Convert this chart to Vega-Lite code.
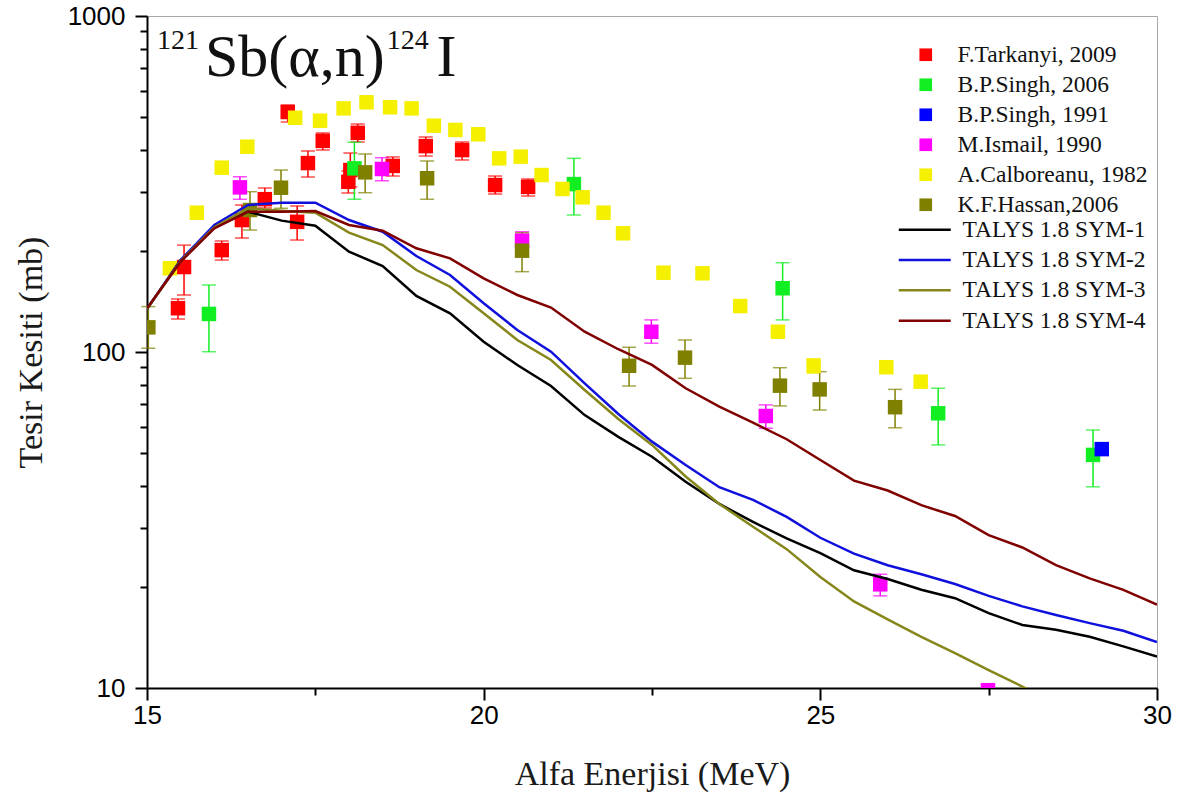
{
  "$schema": "https://vega.github.io/schema/vega-lite/v6.json",
  "width": 1010,
  "height": 672,
  "autosize": {"type": "none"},
  "padding": {"left": 147, "top": 16, "right": 24, "bottom": 116},
  "background": "white",
  "config": {
    "view": {"stroke": "#a8a8a8", "strokeWidth": 1},
    "axis": {"grid": false, "domainColor": "#000000", "domainWidth": 2, "tickColor": "#000000", "tickWidth": 2, "labelColor": "#000000", "labelFont": "Liberation Sans", "labelFontSize": 26, "titleFont": "Liberation Serif", "titleFontWeight": "normal", "titleFontSize": 34, "titleColor": "#1a1a1a", "labelOverlap": false, "labelBound": false, "labelFlush": false}
  },
  "datasets": {
    "pts": [
      {"series": "F.Tarkanyi, 2009", "E": 15.46, "v": 135, "lo": 125.4, "hi": 143.8},
      {"series": "F.Tarkanyi, 2009", "E": 15.55, "v": 179, "lo": 147.8, "hi": 208},
      {"series": "F.Tarkanyi, 2009", "E": 16.11, "v": 201, "lo": 187.8, "hi": 214},
      {"series": "F.Tarkanyi, 2009", "E": 16.41, "v": 247, "lo": 218.4, "hi": 273.8},
      {"series": "F.Tarkanyi, 2009", "E": 16.75, "v": 285, "lo": 268.3, "hi": 307.7},
      {"series": "F.Tarkanyi, 2009", "E": 17.09, "v": 518, "lo": 483.6, "hi": 543},
      {"series": "F.Tarkanyi, 2009", "E": 17.23, "v": 244, "lo": 215.4, "hi": 272},
      {"series": "F.Tarkanyi, 2009", "E": 17.39, "v": 365, "lo": 331.7, "hi": 396.5},
      {"series": "F.Tarkanyi, 2009", "E": 17.61, "v": 425, "lo": 399.2, "hi": 448.6},
      {"series": "F.Tarkanyi, 2009", "E": 17.99, "v": 321, "lo": 297.3, "hi": 345.7},
      {"series": "F.Tarkanyi, 2009", "E": 18.02, "v": 348, "lo": 309.8, "hi": 391},
      {"series": "F.Tarkanyi, 2009", "E": 18.13, "v": 449, "lo": 421.7, "hi": 477},
      {"series": "F.Tarkanyi, 2009", "E": 18.65, "v": 358, "lo": 334, "hi": 380.6},
      {"series": "F.Tarkanyi, 2009", "E": 19.14, "v": 410, "lo": 383, "hi": 436.4},
      {"series": "F.Tarkanyi, 2009", "E": 19.68, "v": 399, "lo": 372.8, "hi": 421.7},
      {"series": "F.Tarkanyi, 2009", "E": 20.17, "v": 314, "lo": 295.3, "hi": 334},
      {"series": "F.Tarkanyi, 2009", "E": 20.66, "v": 310, "lo": 291.2, "hi": 327.2},
      {"series": "B.P.Singh, 2006", "E": 15.92, "v": 129.8, "lo": 100.2, "hi": 158.3},
      {"series": "B.P.Singh, 2006", "E": 18.08, "v": 352, "lo": 284.8, "hi": 420.9},
      {"series": "B.P.Singh, 2006", "E": 21.34, "v": 316, "lo": 255.7, "hi": 377},
      {"series": "B.P.Singh, 2006", "E": 24.44, "v": 154.8, "lo": 124.6, "hi": 184.4},
      {"series": "B.P.Singh, 2006", "E": 26.75, "v": 65.7, "lo": 52.9, "hi": 78},
      {"series": "B.P.Singh, 2006", "E": 29.05, "v": 49.4, "lo": 39.7, "hi": 58.6},
      {"series": "B.P.Singh, 1991", "E": 29.18, "v": 51.4},
      {"series": "M.Ismail, 1990", "E": 16.38, "v": 309, "lo": 284.8, "hi": 332.4},
      {"series": "M.Ismail, 1990", "E": 18.49, "v": 350.5, "lo": 323.4, "hi": 378.7},
      {"series": "M.Ismail, 1990", "E": 20.57, "v": 214.5, "lo": 200, "hi": 228},
      {"series": "M.Ismail, 1990", "E": 22.49, "v": 114.9, "lo": 106.2, "hi": 124.6},
      {"series": "M.Ismail, 1990", "E": 24.19, "v": 64.5, "lo": 59.3, "hi": 69.6},
      {"series": "M.Ismail, 1990", "E": 25.89, "v": 20.35, "lo": 18.8, "hi": 21.8},
      {"series": "M.Ismail, 1990", "E": 27.49, "v": 9.85},
      {"series": "A.Calboreanu, 1982", "E": 15.34, "v": 177.5},
      {"series": "A.Calboreanu, 1982", "E": 15.74, "v": 259.8},
      {"series": "A.Calboreanu, 1982", "E": 16.11, "v": 353.7},
      {"series": "A.Calboreanu, 1982", "E": 16.49, "v": 408.3},
      {"series": "A.Calboreanu, 1982", "E": 17.2, "v": 498},
      {"series": "A.Calboreanu, 1982", "E": 17.57, "v": 488},
      {"series": "A.Calboreanu, 1982", "E": 17.92, "v": 531},
      {"series": "A.Calboreanu, 1982", "E": 18.26, "v": 553.6},
      {"series": "A.Calboreanu, 1982", "E": 18.61, "v": 535},
      {"series": "A.Calboreanu, 1982", "E": 18.93, "v": 531},
      {"series": "A.Calboreanu, 1982", "E": 19.26, "v": 471.6},
      {"series": "A.Calboreanu, 1982", "E": 19.58, "v": 457.9},
      {"series": "A.Calboreanu, 1982", "E": 19.92, "v": 444.6},
      {"series": "A.Calboreanu, 1982", "E": 20.23, "v": 377},
      {"series": "A.Calboreanu, 1982", "E": 20.55, "v": 381.4},
      {"series": "A.Calboreanu, 1982", "E": 20.86, "v": 336.3},
      {"series": "A.Calboreanu, 1982", "E": 21.17, "v": 305.6},
      {"series": "A.Calboreanu, 1982", "E": 21.47, "v": 288.7},
      {"series": "A.Calboreanu, 1982", "E": 21.78, "v": 259.8},
      {"series": "A.Calboreanu, 1982", "E": 22.07, "v": 225.6},
      {"series": "A.Calboreanu, 1982", "E": 22.67, "v": 172.2},
      {"series": "A.Calboreanu, 1982", "E": 23.25, "v": 171.5},
      {"series": "A.Calboreanu, 1982", "E": 23.81, "v": 137, "lo": 133, "hi": 141},
      {"series": "A.Calboreanu, 1982", "E": 24.37, "v": 114.9},
      {"series": "A.Calboreanu, 1982", "E": 24.9, "v": 90.9, "lo": 86.5, "hi": 95.5},
      {"series": "A.Calboreanu, 1982", "E": 25.98, "v": 90.1},
      {"series": "A.Calboreanu, 1982", "E": 26.49, "v": 81.6},
      {"series": "K.F.Hassan,2006", "E": 15.02, "v": 118.4, "lo": 102.6, "hi": 136.5},
      {"series": "K.F.Hassan,2006", "E": 16.53, "v": 264.6, "lo": 230.7, "hi": 300},
      {"series": "K.F.Hassan,2006", "E": 16.99, "v": 308.3, "lo": 267.7, "hi": 348},
      {"series": "K.F.Hassan,2006", "E": 18.24, "v": 342.5, "lo": 297.9, "hi": 388.4},
      {"series": "K.F.Hassan,2006", "E": 19.16, "v": 328.9, "lo": 284.8, "hi": 370.3},
      {"series": "K.F.Hassan,2006", "E": 20.57, "v": 200.2, "lo": 173.4, "hi": 226.5},
      {"series": "K.F.Hassan,2006", "E": 22.16, "v": 91, "lo": 79.2, "hi": 103.3},
      {"series": "K.F.Hassan,2006", "E": 22.99, "v": 96.2, "lo": 83.5, "hi": 108.6},
      {"series": "K.F.Hassan,2006", "E": 24.4, "v": 79.4, "lo": 69.1, "hi": 89.8},
      {"series": "K.F.Hassan,2006", "E": 24.99, "v": 77.4, "lo": 67.2, "hi": 87.4},
      {"series": "K.F.Hassan,2006", "E": 26.11, "v": 68.5, "lo": 59.5, "hi": 77.4}
    ],
    "models": [
      {"model": "TALYS 1.8 SYM-1", "E": 15, "v": 134.3}, {"model": "TALYS 1.8 SYM-1", "E": 15.5, "v": 187.8}, {"model": "TALYS 1.8 SYM-1", "E": 16, "v": 235.0}, {"model": "TALYS 1.8 SYM-1", "E": 16.5, "v": 261.6}, {"model": "TALYS 1.8 SYM-1", "E": 17, "v": 246.0}, {"model": "TALYS 1.8 SYM-1", "E": 17.5, "v": 237.6}, {"model": "TALYS 1.8 SYM-1", "E": 18, "v": 198.9}, {"model": "TALYS 1.8 SYM-1", "E": 18.5, "v": 180.3}, {"model": "TALYS 1.8 SYM-1", "E": 19, "v": 146.8}, {"model": "TALYS 1.8 SYM-1", "E": 19.5, "v": 130.4}, {"model": "TALYS 1.8 SYM-1", "E": 20, "v": 107.3}, {"model": "TALYS 1.8 SYM-1", "E": 20.5, "v": 91.5}, {"model": "TALYS 1.8 SYM-1", "E": 21, "v": 79.2}, {"model": "TALYS 1.8 SYM-1", "E": 21.5, "v": 64.9}, {"model": "TALYS 1.8 SYM-1", "E": 22, "v": 55.9}, {"model": "TALYS 1.8 SYM-1", "E": 22.5, "v": 48.8}, {"model": "TALYS 1.8 SYM-1", "E": 23, "v": 41.1}, {"model": "TALYS 1.8 SYM-1", "E": 23.5, "v": 35.3}, {"model": "TALYS 1.8 SYM-1", "E": 24, "v": 31.2}, {"model": "TALYS 1.8 SYM-1", "E": 24.5, "v": 27.9}, {"model": "TALYS 1.8 SYM-1", "E": 25, "v": 25.2}, {"model": "TALYS 1.8 SYM-1", "E": 25.5, "v": 22.4}, {"model": "TALYS 1.8 SYM-1", "E": 26, "v": 21.1}, {"model": "TALYS 1.8 SYM-1", "E": 26.5, "v": 19.6}, {"model": "TALYS 1.8 SYM-1", "E": 27, "v": 18.5}, {"model": "TALYS 1.8 SYM-1", "E": 27.5, "v": 16.7}, {"model": "TALYS 1.8 SYM-1", "E": 28, "v": 15.4}, {"model": "TALYS 1.8 SYM-1", "E": 28.5, "v": 14.9}, {"model": "TALYS 1.8 SYM-1", "E": 29, "v": 14.2}, {"model": "TALYS 1.8 SYM-1", "E": 29.5, "v": 13.3}, {"model": "TALYS 1.8 SYM-1", "E": 30, "v": 12.4},
      {"model": "TALYS 1.8 SYM-2", "E": 15, "v": 134.3}, {"model": "TALYS 1.8 SYM-2", "E": 15.5, "v": 187.8}, {"model": "TALYS 1.8 SYM-2", "E": 16, "v": 238.8}, {"model": "TALYS 1.8 SYM-2", "E": 16.5, "v": 273.8}, {"model": "TALYS 1.8 SYM-2", "E": 17, "v": 278.2}, {"model": "TALYS 1.8 SYM-2", "E": 17.5, "v": 278.2}, {"model": "TALYS 1.8 SYM-2", "E": 18, "v": 247.1}, {"model": "TALYS 1.8 SYM-2", "E": 18.5, "v": 228.0}, {"model": "TALYS 1.8 SYM-2", "E": 19, "v": 193.1}, {"model": "TALYS 1.8 SYM-2", "E": 19.5, "v": 169.5}, {"model": "TALYS 1.8 SYM-2", "E": 20, "v": 139.6}, {"model": "TALYS 1.8 SYM-2", "E": 20.5, "v": 116.3}, {"model": "TALYS 1.8 SYM-2", "E": 21, "v": 100.2}, {"model": "TALYS 1.8 SYM-2", "E": 21.5, "v": 80.7}, {"model": "TALYS 1.8 SYM-2", "E": 22, "v": 65.4}, {"model": "TALYS 1.8 SYM-2", "E": 22.5, "v": 54.1}, {"model": "TALYS 1.8 SYM-2", "E": 23, "v": 46.1}, {"model": "TALYS 1.8 SYM-2", "E": 23.5, "v": 39.6}, {"model": "TALYS 1.8 SYM-2", "E": 24, "v": 36.3}, {"model": "TALYS 1.8 SYM-2", "E": 24.5, "v": 32.3}, {"model": "TALYS 1.8 SYM-2", "E": 25, "v": 28.0}, {"model": "TALYS 1.8 SYM-2", "E": 25.5, "v": 25.1}, {"model": "TALYS 1.8 SYM-2", "E": 26, "v": 23.2}, {"model": "TALYS 1.8 SYM-2", "E": 26.5, "v": 21.8}, {"model": "TALYS 1.8 SYM-2", "E": 27, "v": 20.4}, {"model": "TALYS 1.8 SYM-2", "E": 27.5, "v": 18.8}, {"model": "TALYS 1.8 SYM-2", "E": 28, "v": 17.5}, {"model": "TALYS 1.8 SYM-2", "E": 28.5, "v": 16.5}, {"model": "TALYS 1.8 SYM-2", "E": 29, "v": 15.6}, {"model": "TALYS 1.8 SYM-2", "E": 29.5, "v": 14.8}, {"model": "TALYS 1.8 SYM-2", "E": 30, "v": 13.7},
      {"model": "TALYS 1.8 SYM-3", "E": 15, "v": 134.3}, {"model": "TALYS 1.8 SYM-3", "E": 15.5, "v": 186.6}, {"model": "TALYS 1.8 SYM-3", "E": 16, "v": 235.0}, {"model": "TALYS 1.8 SYM-3", "E": 16.5, "v": 267.7}, {"model": "TALYS 1.8 SYM-3", "E": 17, "v": 263.4}, {"model": "TALYS 1.8 SYM-3", "E": 17.5, "v": 259.8}, {"model": "TALYS 1.8 SYM-3", "E": 18, "v": 226.5}, {"model": "TALYS 1.8 SYM-3", "E": 18.5, "v": 208.2}, {"model": "TALYS 1.8 SYM-3", "E": 19, "v": 175.4}, {"model": "TALYS 1.8 SYM-3", "E": 19.5, "v": 156.4}, {"model": "TALYS 1.8 SYM-3", "E": 20, "v": 130.4}, {"model": "TALYS 1.8 SYM-3", "E": 20.5, "v": 108.6}, {"model": "TALYS 1.8 SYM-3", "E": 21, "v": 94.7}, {"model": "TALYS 1.8 SYM-3", "E": 21.5, "v": 77.1}, {"model": "TALYS 1.8 SYM-3", "E": 22, "v": 63.2}, {"model": "TALYS 1.8 SYM-3", "E": 22.5, "v": 52.9}, {"model": "TALYS 1.8 SYM-3", "E": 23, "v": 42.6}, {"model": "TALYS 1.8 SYM-3", "E": 23.5, "v": 35.3}, {"model": "TALYS 1.8 SYM-3", "E": 24, "v": 30.2}, {"model": "TALYS 1.8 SYM-3", "E": 24.5, "v": 25.9}, {"model": "TALYS 1.8 SYM-3", "E": 25, "v": 21.4}, {"model": "TALYS 1.8 SYM-3", "E": 25.5, "v": 18.1}, {"model": "TALYS 1.8 SYM-3", "E": 26, "v": 16.0}, {"model": "TALYS 1.8 SYM-3", "E": 26.5, "v": 14.2}, {"model": "TALYS 1.8 SYM-3", "E": 27, "v": 12.7}, {"model": "TALYS 1.8 SYM-3", "E": 27.5, "v": 11.3}, {"model": "TALYS 1.8 SYM-3", "E": 28, "v": 10.1}, {"model": "TALYS 1.8 SYM-3", "E": 28.5, "v": 9.0},
      {"model": "TALYS 1.8 SYM-4", "E": 15, "v": 134.9}, {"model": "TALYS 1.8 SYM-4", "E": 15.5, "v": 185.7}, {"model": "TALYS 1.8 SYM-4", "E": 16, "v": 233.4}, {"model": "TALYS 1.8 SYM-4", "E": 16.5, "v": 261.6}, {"model": "TALYS 1.8 SYM-4", "E": 17, "v": 261.6}, {"model": "TALYS 1.8 SYM-4", "E": 17.5, "v": 262.8}, {"model": "TALYS 1.8 SYM-4", "E": 18, "v": 238.8}, {"model": "TALYS 1.8 SYM-4", "E": 18.5, "v": 229.6}, {"model": "TALYS 1.8 SYM-4", "E": 19, "v": 203.5}, {"model": "TALYS 1.8 SYM-4", "E": 19.5, "v": 190.0}, {"model": "TALYS 1.8 SYM-4", "E": 20, "v": 165.7}, {"model": "TALYS 1.8 SYM-4", "E": 20.5, "v": 147.8}, {"model": "TALYS 1.8 SYM-4", "E": 21, "v": 135.6}, {"model": "TALYS 1.8 SYM-4", "E": 21.5, "v": 114.9}, {"model": "TALYS 1.8 SYM-4", "E": 22, "v": 101.9}, {"model": "TALYS 1.8 SYM-4", "E": 22.5, "v": 91.5}, {"model": "TALYS 1.8 SYM-4", "E": 23, "v": 78.0}, {"model": "TALYS 1.8 SYM-4", "E": 23.5, "v": 68.8}, {"model": "TALYS 1.8 SYM-4", "E": 24, "v": 61.6}, {"model": "TALYS 1.8 SYM-4", "E": 24.5, "v": 55.0}, {"model": "TALYS 1.8 SYM-4", "E": 25, "v": 47.7}, {"model": "TALYS 1.8 SYM-4", "E": 25.5, "v": 41.4}, {"model": "TALYS 1.8 SYM-4", "E": 26, "v": 38.7}, {"model": "TALYS 1.8 SYM-4", "E": 26.5, "v": 35.0}, {"model": "TALYS 1.8 SYM-4", "E": 27, "v": 32.5}, {"model": "TALYS 1.8 SYM-4", "E": 27.5, "v": 28.5}, {"model": "TALYS 1.8 SYM-4", "E": 28, "v": 26.2}, {"model": "TALYS 1.8 SYM-4", "E": 28.5, "v": 23.2}, {"model": "TALYS 1.8 SYM-4", "E": 29, "v": 21.2}, {"model": "TALYS 1.8 SYM-4", "E": 29.5, "v": 19.6}, {"model": "TALYS 1.8 SYM-4", "E": 30, "v": 17.7}
    ]
  },
  "layer": [
    {
      "data": {"name": "pts"},
      "transform": [{"filter": "isValid(datum.lo)"}],
      "mark": {"type": "errorbar", "ticks": {"size": 14}, "thickness": 1.5},
      "encoding": {
        "x": {"field": "E", "type": "quantitative", "scale": {"domain": [15, 30], "nice": false},
          "axis": {"title": "Alfa Enerjisi (MeV)", "values": [15, 17.5, 20, 22.5, 25, 27.5, 30], "labelExpr": "datum.value % 5 == 0 ? datum.value : ''", "tickSize": {"condition": {"test": "datum.value % 5 == 0", "value": 12}, "value": 7}, "labelPadding": 2, "titlePadding": 29}},
        "y": {"field": "lo", "type": "quantitative", "scale": {"type": "log", "domain": [10, 1000], "nice": false},
          "axis": {"title": "Tesir Kesiti (mb)", "values": [10, 20, 30, 40, 50, 60, 70, 80, 90, 100, 200, 300, 400, 500, 600, 700, 800, 900, 1000], "labelExpr": "datum.value == 10 || datum.value == 100 || datum.value == 1000 ? datum.value : ''", "tickSize": {"condition": {"test": "datum.value == 10 || datum.value == 100 || datum.value == 1000", "value": 12}, "value": 7}, "labelPadding": 10, "titlePadding": 19}},
        "y2": {"field": "hi"},
        "color": {"field": "series", "type": "nominal", "legend": null,
          "scale": {"domain": ["K.F.Hassan,2006", "A.Calboreanu, 1982", "M.Ismail, 1990", "B.P.Singh, 1991", "B.P.Singh, 2006", "F.Tarkanyi, 2009"], "range": ["#808000", "#f4f000", "#ff00ff", "#0000ff", "#11ee22", "#ff0000"]}}
      }
    },
    {
      "data": {"name": "pts"},
      "mark": {"type": "square", "size": 210, "filled": true, "opacity": 1, "clip": true},
      "encoding": {
        "x": {"field": "E", "type": "quantitative", "scale": {"domain": [15, 30], "nice": false},
          "axis": {"title": "Alfa Enerjisi (MeV)", "values": [15, 17.5, 20, 22.5, 25, 27.5, 30], "labelExpr": "datum.value % 5 == 0 ? datum.value : ''", "tickSize": {"condition": {"test": "datum.value % 5 == 0", "value": 12}, "value": 7}, "labelPadding": 2, "titlePadding": 29}},
        "y": {"field": "v", "type": "quantitative", "scale": {"type": "log", "domain": [10, 1000], "nice": false},
          "axis": {"title": "Tesir Kesiti (mb)", "values": [10, 20, 30, 40, 50, 60, 70, 80, 90, 100, 200, 300, 400, 500, 600, 700, 800, 900, 1000], "labelExpr": "datum.value == 10 || datum.value == 100 || datum.value == 1000 ? datum.value : ''", "tickSize": {"condition": {"test": "datum.value == 10 || datum.value == 100 || datum.value == 1000", "value": 12}, "value": 7}, "labelPadding": 10, "titlePadding": 19}},
        "fill": {"field": "series", "type": "nominal",
          "scale": {"domain": ["F.Tarkanyi, 2009", "B.P.Singh, 2006", "B.P.Singh, 1991", "M.Ismail, 1990", "A.Calboreanu, 1982", "K.F.Hassan,2006"], "range": ["#ff0000", "#11ee22", "#0000ff", "#ff00ff", "#f4f000", "#808000"]},
          "legend": {"title": null, "orient": "none", "legendX": 767, "legendY": 27, "symbolType": "square", "symbolSize": 160, "symbolStrokeWidth": 0, "labelFont": "Liberation Serif", "labelFontSize": 23.5, "labelColor": "#111111", "labelOffset": 20, "rowPadding": 5, "padding": 0, "labelLimit": 300}}
      }
    },
    {
      "data": {"name": "models"},
      "mark": {"type": "line", "strokeWidth": 2.5, "clip": true},
      "encoding": {
        "x": {"field": "E", "type": "quantitative", "scale": {"domain": [15, 30], "nice": false},
          "axis": {"title": "Alfa Enerjisi (MeV)", "values": [15, 17.5, 20, 22.5, 25, 27.5, 30], "labelExpr": "datum.value % 5 == 0 ? datum.value : ''", "tickSize": {"condition": {"test": "datum.value % 5 == 0", "value": 12}, "value": 7}, "labelPadding": 2, "titlePadding": 29}},
        "y": {"field": "v", "type": "quantitative", "scale": {"type": "log", "domain": [10, 1000], "nice": false},
          "axis": {"title": "Tesir Kesiti (mb)", "values": [10, 20, 30, 40, 50, 60, 70, 80, 90, 100, 200, 300, 400, 500, 600, 700, 800, 900, 1000], "labelExpr": "datum.value == 10 || datum.value == 100 || datum.value == 1000 ? datum.value : ''", "tickSize": {"condition": {"test": "datum.value == 10 || datum.value == 100 || datum.value == 1000", "value": 12}, "value": 7}, "labelPadding": 10, "titlePadding": 19}},
        "stroke": {"field": "model", "type": "nominal",
          "scale": {"domain": ["TALYS 1.8 SYM-1", "TALYS 1.8 SYM-2", "TALYS 1.8 SYM-3", "TALYS 1.8 SYM-4"], "range": ["#000000", "#1010dd", "#86861a", "#800000"]},
          "legend": {"title": null, "orient": "none", "legendX": 766, "legendY": 202, "symbolType": "M -2.6 0 L 2.6 0", "symbolSize": 400, "symbolStrokeWidth": 2.5, "labelFont": "Liberation Serif", "labelFontSize": 23.5, "labelColor": "#111111", "labelOffset": 26, "rowPadding": 5.3, "padding": 0, "labelLimit": 300}}
      }
    },
    {
      "data": {"values": [{}]},
      "mark": {"type": "text", "text": "121", "font": "Liberation Serif", "fontSize": 28, "align": "left", "baseline": "alphabetic", "color": "#111111"},
      "encoding": {
        "x": {"datum": 15.15, "type": "quantitative"},
        "y": {"datum": 797.7, "type": "quantitative"}
      }
    },
    {
      "data": {"values": [{}]},
      "mark": {"type": "text", "text": "Sb(α,n)", "font": "Liberation Serif", "fontSize": 60, "align": "left", "baseline": "alphabetic", "color": "#111111"},
      "encoding": {
        "x": {"datum": 15.86, "type": "quantitative"},
        "y": {"datum": 662.9, "type": "quantitative"}
      }
    },
    {
      "data": {"values": [{}]},
      "mark": {"type": "text", "text": "124", "font": "Liberation Serif", "fontSize": 28, "align": "left", "baseline": "alphabetic", "color": "#111111"},
      "encoding": {
        "x": {"datum": 18.56, "type": "quantitative"},
        "y": {"datum": 797.7, "type": "quantitative"}
      }
    },
    {
      "data": {"values": [{}]},
      "mark": {"type": "text", "text": "I", "font": "Liberation Serif", "fontSize": 60, "align": "left", "baseline": "alphabetic", "color": "#111111"},
      "encoding": {
        "x": {"datum": 19.3, "type": "quantitative"},
        "y": {"datum": 662.9, "type": "quantitative"}
      }
    }
  ]
}
